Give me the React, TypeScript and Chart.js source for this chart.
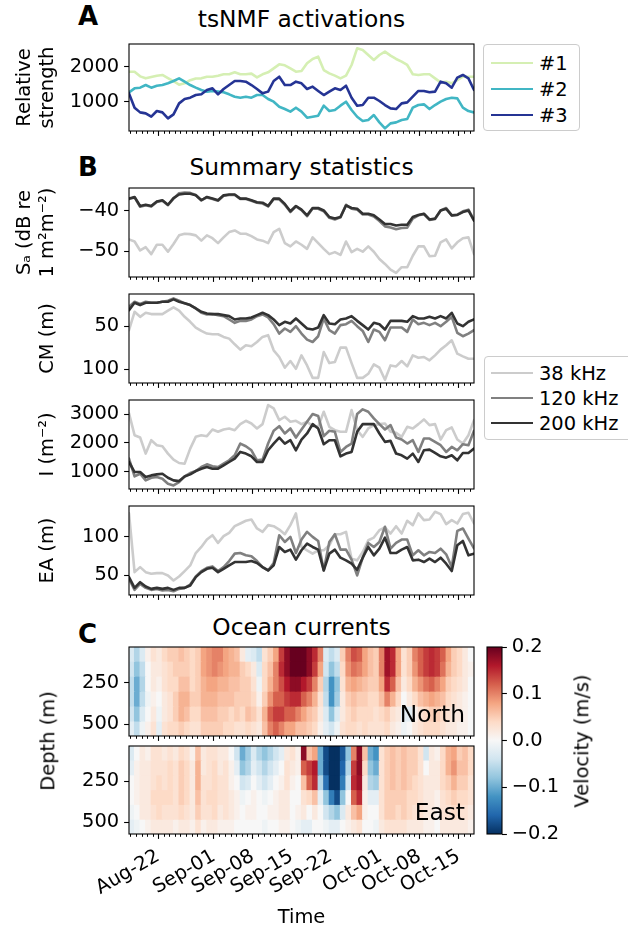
import React, { useEffect, useRef } from 'react';
import { Chart, registerables } from 'chart.js';
Chart.register(...registerables);

const FAMILY = "'DejaVu Sans', 'Liberation Sans', sans-serif";
const FS = 19.44;
const FS_L = 23.33;
Chart.defaults.font.family = FAMILY;
Chart.defaults.color = '#000';

// ---- time axis (days since Aug 1; Aug-22 = 21) ----
const xMin = 15.75;
const xMax = 77.75;
const times = Array.from({ length: 63 }, (_, i) => xMin + i);
const cellTimes = Array.from({ length: 62 }, (_, i) => xMin + 0.5 + i);
const majorTickDays = [21, 31, 38, 45, 52, 61, 68, 75];
const majorTickLabels = ['Aug-22', 'Sep-01', 'Sep-08', 'Sep-15', 'Sep-22', 'Oct-01', 'Oct-08', 'Oct-15'];

// ---- A: tsNMF activations ----
const act1 = [1865,1865,1730,1673,1710,1750,1770,1680,1590,1490,1530,1620,1670,1673,1720,1720,1750,1790,1790,1846,1790,1790,1810,1700,1790,1846,1961,2077,2050,1961,1865,1885,2106,2231,2298,1913,1817,1750,1673,1750,2058,2538,2490,2346,2202,2346,2442,2327,2231,2154,2058,1790,1770,1790,1790,1673,1558,1577,1530,1625,1720,1720,1720];
const act2 = [1270,1385,1404,1480,1404,1460,1480,1530,1596,1673,1577,1480,1404,1337,1290,1310,1290,1270,1212,1144,1115,1144,1115,1192,1192,1077,1000,856,788,712,827,712,538,567,596,885,731,760,885,1000,760,567,442,471,615,404,231,375,404,471,500,827,904,923,788,904,1000,1077,1115,1096,827,731,692];
const act3 = [1240,827,692,663,567,731,692,519,635,952,1077,1115,1192,1212,1337,1385,1212,1365,1480,1596,1596,1577,1480,1365,1240,1290,1596,1720,1480,1480,1577,1530,1365,1433,1310,1192,1290,1385,1337,1460,1115,885,904,1115,1115,1020,904,808,788,952,981,1144,1310,1310,1270,1290,1577,1530,1404,1692,1770,1673,1337];

// ---- B: summary statistics ----
const sa38 = [-47.1,-47.6,-49.8,-49.0,-50.7,-48.4,-48.4,-50.1,-48.2,-46.1,-45.7,-45.8,-46.1,-47.4,-46.1,-46.8,-48.0,-46.6,-45.3,-44.9,-45.7,-45.7,-46.3,-47.1,-47.4,-48.0,-45.3,-44.5,-48.0,-48.8,-47.6,-48.4,-49.4,-46.6,-48.0,-49.4,-50.7,-50.2,-50.9,-47.6,-50.2,-49.4,-50.1,-48.8,-50.1,-51.9,-53.1,-54.5,-55.3,-53.9,-53.9,-51.1,-48.8,-48.8,-51.2,-51.1,-47.8,-47.1,-49.3,-47.8,-46.8,-46.6,-50.7];
const sa120 = [-37.2,-36.8,-39.1,-38.7,-39.0,-37.9,-37.6,-38.7,-37.1,-35.8,-35.6,-35.7,-36.2,-37.5,-36.8,-37.2,-37.6,-36.4,-36.2,-36.2,-37.2,-37.2,-37.6,-38.1,-38.3,-39.0,-37.2,-37.3,-38.6,-40.4,-39.0,-39.9,-41.4,-39.5,-39.6,-40.2,-41.8,-42.2,-41.7,-38.6,-39.6,-39.8,-41.0,-41.0,-41.5,-42.6,-43.9,-44.2,-44.6,-44.3,-44.2,-42.0,-41.2,-40.9,-42.3,-42.1,-40.0,-39.4,-41.2,-41.0,-40.2,-39.8,-42.3];
const sa200 = [-37.1,-36.7,-38.9,-38.6,-38.9,-37.8,-37.5,-38.6,-37.0,-36.1,-35.9,-35.9,-36.3,-37.5,-36.7,-37.1,-37.5,-36.3,-36.1,-36.1,-37.1,-37.1,-37.5,-38.0,-38.1,-38.9,-37.1,-37.1,-38.4,-40.2,-38.9,-39.8,-41.2,-39.4,-39.4,-40.0,-41.6,-42.0,-41.6,-38.8,-39.4,-39.6,-40.8,-40.8,-41.2,-42.2,-43.3,-43.3,-43.7,-43.5,-43.5,-41.6,-41.1,-40.8,-42.2,-42.0,-40.0,-39.6,-41.2,-41.1,-40.4,-40.0,-42.5];
const cm38 = [54.7,33.2,39.1,34.4,35.9,35.9,35.9,32.0,28.1,32.0,39.1,44.9,51.6,55.5,58.6,59.4,59.4,62.5,64.5,71.1,77.3,72.3,73.4,68.4,62.5,60.5,78.1,85.9,98.4,90.6,99.6,84.0,95.7,110.2,110.2,80.1,93.0,91.8,75.0,75.0,93.0,110.2,110.2,105.5,94.5,98.4,112.5,95.7,96.9,90.6,96.9,84.0,86.7,85.9,89.8,84.0,77.3,72.3,66.4,82.0,85.2,87.9,87.9];
const cm120 = [27.3,21.5,24.2,21.5,22.7,22.7,21.5,20.3,17.6,20.3,23.4,25.4,29.3,34.4,36.3,35.9,37.1,38.3,42.2,46.1,43.8,43.8,42.2,38.3,36.3,39.8,47.7,58.6,52.7,56.6,50.0,58.6,65.6,68.4,61.7,41.0,54.7,58.6,48.8,47.7,43.8,50.0,55.5,68.4,53.9,56.6,66.4,51.6,51.6,51.6,56.6,42.2,47.7,46.1,48.8,46.1,50.0,44.9,39.1,57.8,61.7,58.6,54.7];
const cm200 = [31.3,22.7,25.4,22.7,22.7,22.7,21.5,21.5,18.8,21.5,23.4,25.4,29.3,33.2,35.2,35.9,35.9,37.1,38.3,42.2,41.0,41.0,39.8,37.1,34.4,37.1,42.2,48.8,44.9,46.9,41.0,46.9,52.7,53.9,51.6,37.1,46.9,47.7,42.2,41.0,38.3,43.8,48.8,53.9,46.1,47.7,53.9,43.8,43.8,43.8,44.9,38.3,41.0,41.0,39.1,41.0,38.3,41.0,34.4,46.9,50.0,44.9,42.0];
const int38 = [3023,2267,2186,1628,2093,1919,1884,1628,1419,1302,1279,1802,2209,2267,2233,2465,2384,2465,2500,2442,2651,2767,2674,2500,2651,3314,3198,2791,2907,2733,2767,2651,2733,2581,2558,3081,2558,2442,2384,2384,3140,2442,2209,2500,2616,2651,2674,2384,2349,2209,2558,2500,2651,2814,2616,2651,2116,2442,2535,2116,1977,2267,2791];
const int120 = [1453,837,930,698,791,814,756,581,523,640,837,953,1023,1163,1256,1186,1163,1279,1395,1570,1977,1884,1744,1395,1419,1977,2419,2581,2326,2500,2186,2465,2733,3000,2930,2233,2419,2384,1686,1860,1977,3000,3163,3081,2849,2651,2465,2616,2186,2116,1977,2093,1686,2151,2151,2035,1919,1686,1860,1744,1953,1919,2419];
const int200 = [1337,988,988,814,872,907,930,791,698,674,837,907,1023,1105,1163,1105,1105,1221,1337,1453,1686,1628,1535,1337,1337,1744,1977,2186,1977,2093,1744,2116,2326,2651,2500,1953,2093,2093,1535,1628,1686,2384,2651,2651,2651,2326,2035,2070,1628,1570,1453,1628,1337,1744,1767,1651,1535,1488,1570,1395,1651,1651,1802];
const ea38 = [130.7,53.9,60.5,53.9,51.8,52.6,52.6,49.6,43.0,48.2,55.3,62.7,78.9,86.8,96.5,102.2,92.1,100.9,105.3,114.0,117.5,121.1,122.8,111.0,106.6,115.4,114.0,109.6,103.5,115.4,130.7,86.8,82.5,78.1,82.5,82.5,89.0,103.5,103.5,106.6,71.5,69.3,80.3,95.6,99.1,108.8,112.3,104.4,114.0,104.4,121.1,115.4,130.7,121.9,122.8,132.9,129.8,116.7,121.9,117.5,129.8,131.6,117.5];
const ea120 = [45.2,30.7,38.6,33.3,30.7,32.0,29.8,30.7,28.9,32.0,33.3,37.7,48.2,55.3,59.6,61.4,55.3,60.5,68.4,78.1,78.9,75.9,74.6,68.4,60.5,56.1,65.8,102.2,93.4,100.0,78.9,96.5,106.6,100.0,94.7,56.1,93.4,103.5,83.3,83.3,70.2,49.6,72.8,92.1,86.8,93.4,113.2,84.6,92.1,96.5,96.5,75.9,82.5,75.9,80.3,78.9,84.6,77.2,60.5,107.9,111.0,97.8,85.0];
const ea200 = [47.4,33.3,40.8,35.1,32.0,33.3,32.0,33.3,30.7,33.3,33.3,36.4,47.4,53.9,58.3,59.6,53.9,58.3,62.7,67.1,67.1,67.1,68.4,65.8,60.5,56.1,62.7,86.8,80.3,83.3,70.2,82.5,91.2,86.8,83.3,56.1,78.1,83.3,72.8,69.3,64.9,57.0,72.8,86.8,75.9,84.6,99.1,78.9,78.9,83.3,86.8,69.3,70.2,67.1,71.5,67.1,72.8,64.9,55.3,89.0,94.7,75.9,78.1];

// ---- C: ocean currents (m/s), one row per day, columns = depth bins ----
const depthEdges = [35.5, 120, 210, 300, 390, 480, 570.5];
const northCols = [
  [-0.03,-0.04,-0.05,-0.05,-0.04,-0.02],[-0.06,-0.08,-0.10,-0.10,-0.08,-0.05],[-0.03,-0.05,-0.06,-0.05,-0.03,-0.01],[0.01,0.0,0.0,-0.01,0.0,0.01],
  [0.03,0.02,0.02,0.01,0.02,0.03],[0.02,0.02,0.01,0.0,-0.01,-0.02],[0.04,0.03,0.03,0.02,0.02,0.03],[0.05,0.04,0.04,0.03,0.03,0.04],
  [0.05,0.05,0.04,0.05,0.05,0.04],[0.06,0.05,0.06,0.07,0.07,0.05],[0.05,0.05,0.06,0.07,0.06,0.04],[0.04,0.04,0.04,0.05,0.04,0.03],
  [0.05,0.05,0.05,0.05,0.04,0.03],[0.08,0.08,0.07,0.07,0.06,0.05],[0.09,0.09,0.08,0.07,0.06,0.05],[0.10,0.10,0.08,0.07,0.06,0.05],
  [0.10,0.09,0.07,0.06,0.05,0.05],[0.08,0.08,0.07,0.06,0.05,0.04],[0.07,0.07,0.06,0.06,0.04,0.04],[0.06,0.07,0.06,0.05,0.05,0.03],
  [0.02,0.05,0.05,0.05,0.04,0.03],[-0.02,0.04,0.05,0.05,0.06,0.04],[-0.03,0.02,0.03,0.04,0.05,0.03],[-0.05,-0.03,-0.01,0.01,0.03,0.02],
  [0.03,0.04,0.04,0.05,0.07,0.06],[0.05,0.06,0.07,0.09,0.12,0.10],[0.08,0.10,0.10,0.12,0.14,0.12],[0.14,0.15,0.13,0.12,0.14,0.10],
  [0.18,0.18,0.16,0.14,0.12,0.08],[0.20,0.20,0.18,0.15,0.12,0.08],[0.20,0.20,0.18,0.15,0.10,0.06],[0.20,0.20,0.16,0.12,0.08,0.06],
  [0.18,0.18,0.14,0.10,0.06,0.05],[0.15,0.14,0.10,0.07,0.05,0.04],[0.10,0.08,0.05,0.03,0.02,0.01],[-0.03,-0.04,-0.06,-0.05,-0.03,-0.02],
  [-0.05,-0.08,-0.12,-0.12,-0.08,-0.04],[-0.03,-0.05,-0.08,-0.07,-0.03,-0.01],[0.05,0.04,0.03,0.02,0.02,0.03],[0.10,0.09,0.07,0.05,0.04,0.04],
  [0.13,0.11,0.08,0.06,0.05,0.04],[0.12,0.10,0.07,0.05,0.04,0.03],[0.08,0.08,0.06,0.05,0.04,0.04],[0.06,0.06,0.05,0.04,0.04,0.03],
  [0.05,0.05,0.05,0.04,0.03,0.03],[0.10,0.10,0.08,0.06,0.04,0.03],[0.17,0.17,0.15,0.10,0.05,0.04],[0.15,0.15,0.12,0.07,0.03,0.02],
  [0.08,0.08,0.06,0.04,0.02,0.01],[0.03,0.03,0.02,0.0,-0.02,-0.01],[0.05,0.05,0.04,0.02,-0.02,0.0],[0.10,0.09,0.07,0.04,0.01,0.02],
  [0.12,0.12,0.09,0.06,0.03,0.03],[0.14,0.14,0.11,0.07,0.04,0.04],[0.15,0.15,0.12,0.08,0.05,0.04],[0.14,0.14,0.10,0.07,0.05,0.04],
  [0.12,0.11,0.08,0.06,0.04,0.03],[0.08,0.07,0.05,0.04,0.03,0.02],[0.05,0.05,0.04,0.03,0.02,0.02],[0.04,0.04,0.03,0.02,0.02,0.01],
  [0.02,0.02,0.02,0.01,0.01,0.01],[0.0,0.01,0.0,0.0,0.0,0.0],
];
const eastCols = [
  [-0.03,-0.02,0.0,0.0,-0.01,-0.02],[0.0,0.01,0.01,0.01,0.0,-0.01],[0.02,0.02,0.02,0.02,0.02,0.0],[0.01,0.02,0.02,0.02,0.02,0.01],
  [0.03,0.03,0.03,0.04,0.03,0.02],[0.03,0.03,0.04,0.04,0.04,0.02],[0.02,0.03,0.03,0.04,0.03,0.02],[0.03,0.04,0.04,0.04,0.03,0.02],
  [0.02,0.03,0.03,0.03,0.03,0.01],[0.04,0.05,0.05,0.05,0.04,0.02],[0.03,0.04,0.04,0.04,0.03,0.02],[0.01,0.02,0.02,0.02,0.02,0.01],
  [0.06,0.07,0.07,0.06,0.05,0.03],[0.02,0.02,0.03,0.03,0.03,0.01],[0.03,0.03,0.03,0.04,0.03,0.02],[0.03,0.04,0.04,0.04,0.04,0.02],
  [0.02,0.02,0.03,0.03,0.02,0.01],[0.02,0.03,0.03,0.03,0.03,0.01],[0.0,0.01,0.01,0.02,0.02,0.01],[-0.04,-0.02,0.0,0.01,0.01,0.0],
  [-0.10,-0.08,-0.04,-0.01,0.0,0.0],[-0.07,-0.06,-0.03,0.0,0.01,0.0],[-0.03,-0.02,0.0,0.01,0.01,0.0],[-0.06,-0.04,-0.02,0.0,0.0,0.0],
  [-0.08,-0.06,-0.04,-0.01,0.0,-0.01],[-0.06,-0.04,-0.02,0.0,0.01,0.0],[-0.04,-0.02,0.0,0.01,0.01,0.0],[-0.02,0.0,0.01,0.02,0.02,0.01],
  [0.02,0.03,0.03,0.02,0.02,0.01],[0.03,0.02,0.01,0.0,0.0,0.0],[0.01,0.01,0.0,0.0,0.01,-0.01],[0.18,0.12,0.06,0.03,0.02,-0.02],
  [0.06,0.14,0.12,0.04,0.0,-0.02],[0.08,0.16,0.15,0.06,0.02,0.0],[-0.10,-0.10,-0.06,-0.02,0.0,0.0],[-0.18,-0.18,-0.15,-0.08,-0.04,-0.01],
  [-0.20,-0.20,-0.20,-0.14,-0.06,-0.02],[-0.20,-0.20,-0.20,-0.18,-0.08,-0.02],[-0.17,-0.16,-0.14,-0.08,-0.03,0.0],[-0.08,-0.06,-0.04,0.0,0.02,0.01],
  [0.10,0.14,0.15,0.12,0.06,0.02],[0.18,0.18,0.17,0.15,0.08,0.03],[0.06,0.04,0.02,0.01,0.01,0.0],[-0.10,-0.08,-0.06,-0.02,0.0,0.0],
  [-0.12,-0.10,-0.07,-0.02,0.0,-0.01],[0.03,0.03,0.03,0.03,0.03,0.02],[0.05,0.05,0.05,0.05,0.05,0.03],[0.06,0.06,0.06,0.05,0.05,0.03],
  [0.05,0.05,0.05,0.05,0.04,0.03],[0.06,0.06,0.06,0.05,0.05,0.03],[0.05,0.05,0.05,0.04,0.04,0.02],[0.05,0.05,0.04,0.04,0.03,0.02],
  [0.03,0.03,0.03,0.03,0.03,0.02],[-0.04,0.0,0.02,0.02,0.02,0.01],[0.02,0.02,0.02,0.02,0.02,0.01],[0.01,0.02,0.02,0.01,0.01,0.0],
  [0.04,0.04,0.04,0.03,0.03,0.02],[0.07,0.07,0.05,0.04,0.03,0.02],[0.08,0.09,0.07,0.05,0.04,0.02],[0.05,0.06,0.05,0.04,0.03,0.02],
  [0.06,0.06,0.05,0.04,0.03,0.02],[0.04,0.04,0.03,0.03,0.02,0.01],
];

// ---- colours ----
const RDBU_R = ['#053061','#2166ac','#4393c3','#92c5de','#d1e5f0','#f7f7f7','#fddbc7','#f4a582','#d6604d','#b2182b','#67001f'];
function hexToRgb(h: string) { return [1, 3, 5].map(k => parseInt(h.slice(k, k + 2), 16)); }
function colorOf(v: number) {
  const t = Math.max(0, Math.min(1, (v + 0.2) / 0.4)) * 10;
  const i = Math.min(9, Math.floor(t));
  const f = t - i;
  const a = hexToRgb(RDBU_R[i]);
  const b = hexToRgb(RDBU_R[i + 1]);
  const c = a.map((x, k) => Math.round(x + (b[k] - x) * f));
  return `rgb(${c[0]},${c[1]},${c[2]})`;
}

const minus = (s: string) => s.replace('-', '\u2212');

// ---- plugins ----
const framePlugin = {
  id: 'frame',
  afterDraw(chart: any) {
    const { ctx, chartArea: a } = chart;
    ctx.save();
    ctx.strokeStyle = '#000';
    ctx.lineWidth = 1.1;
    ctx.strokeRect(a.left, a.top, a.right - a.left, a.bottom - a.top);
    ctx.restore();
  },
};
const minorTickPlugin = {
  id: 'minorTicks',
  afterDraw(chart: any) {
    const xs = chart.scales.x;
    const { ctx, chartArea: a } = chart;
    ctx.save();
    ctx.strokeStyle = '#000';
    ctx.lineWidth = 1;
    for (let d = Math.ceil(xMin); d <= Math.floor(xMax); d++) {
      if (majorTickDays.includes(d)) continue;
      const px = Math.round(xs.getPixelForValue(d)) + 0.5;
      ctx.beginPath();
      ctx.moveTo(px, a.bottom);
      ctx.lineTo(px, a.bottom + 2.8);
      ctx.stroke();
    }
    ctx.restore();
  },
};
const cornerLabelPlugin = {
  id: 'cornerLabel',
  afterDatasetsDraw(chart: any, _args: any, opts: any) {
    if (!opts || !opts.text) return;
    const { ctx, chartArea: a } = chart;
    ctx.save();
    ctx.font = `${FS_L}px ${FAMILY}`;
    ctx.fillStyle = '#000';
    ctx.textAlign = 'right';
    ctx.textBaseline = 'alphabetic';
    ctx.fillText(opts.text, a.right - 9, a.bottom - 14);
    ctx.restore();
  },
};
const colorbarPlugin = {
  id: 'cbarFill',
  beforeDatasetsDraw(chart: any) {
    const { ctx, chartArea: a } = chart;
    const ys = chart.scales.y;
    const y0 = ys.getPixelForValue(-0.2);
    const y1 = ys.getPixelForValue(0.2);
    const g = ctx.createLinearGradient(0, y0, 0, y1);
    RDBU_R.forEach((c, i) => g.addColorStop(i / (RDBU_R.length - 1), c));
    ctx.save();
    ctx.fillStyle = g;
    ctx.fillRect(a.left, a.top, a.right - a.left, a.bottom - a.top);
    ctx.restore();
  },
};

const PAD = 20;

function xScale(showLabels: boolean, axisH: number) {
  return {
    type: 'linear',
    min: xMin,
    max: xMax,
    offset: false,
    grid: { display: true, offset: false, drawOnChartArea: false, drawTicks: true, tickLength: 4.9, tickWidth: 1.1, tickColor: '#000' },
    border: { display: false },
    afterBuildTicks: (s: any) => { s.ticks = majorTickDays.map(v => ({ value: v })); },
    afterFit: (s: any) => { s.height = axisH; },
    ticks: {
      display: showLabels,
      autoSkip: false,
      minRotation: 30,
      maxRotation: 30,
      padding: 6,
      color: '#000',
      font: { family: FAMILY, size: FS },
      callback: (v: number) => { const k = majorTickDays.indexOf(v); return k >= 0 ? majorTickLabels[k] : ''; },
    },
    title: showLabels
      ? { display: true, text: 'Time', color: '#000', font: { family: FAMILY, size: FS }, padding: { top: 0, bottom: 4 } }
      : { display: false },
  };
}

function yScale(p: { min: number; max: number; ticks: number[]; reverse?: boolean; title?: string | string[]; titlePad?: number }) {
  return {
    type: 'linear',
    min: p.min,
    max: p.max,
    reverse: !!p.reverse,
    beginAtZero: false,
    grid: { display: true, drawOnChartArea: false, drawTicks: true, tickLength: 4.9, tickWidth: 1.1, tickColor: '#000' },
    border: { display: false },
    afterBuildTicks: (s: any) => { s.ticks = p.ticks.map(v => ({ value: v })); },
    afterFit: (s: any) => { s.width = 129; },
    ticks: { color: '#000', padding: 4.9, font: { family: FAMILY, size: FS }, callback: (v: number) => minus(String(v)) },
    title: p.title
      ? { display: true, text: p.title, color: '#000', font: { family: FAMILY, size: FS, lineHeight: 1.2 }, padding: { top: p.titlePad ?? 0, bottom: 0 } }
      : { display: false },
  };
}

function lineConfig(p: any) {
  return {
    type: 'line',
    data: {
      datasets: p.series.map((s: any) => ({
        label: s.label,
        data: times.map((t, i) => ({ x: t, y: s.data[i] })),
        borderColor: s.color,
        backgroundColor: s.color,
        borderWidth: 2.6,
        pointRadius: 0,
        tension: 0,
        fill: false,
        borderJoinStyle: 'round',
        borderCapStyle: 'round',
      })),
    },
    options: {
      responsive: false,
      animation: false,
      events: [],
      layout: { padding: { top: PAD, right: 6, left: 0, bottom: 0 } },
      plugins: { legend: { display: false }, tooltip: { enabled: false } },
      scales: { x: xScale(false, PAD), y: yScale(p) },
    },
    plugins: [framePlugin, minorTickPlugin],
  };
}

function heatConfig(cols: number[][], label: string, showX: boolean, axisH: number) {
  const rows = depthEdges.slice(0, -1).map((_, r) => cols.map(c => c[r]));
  return {
    type: 'bar',
    data: {
      datasets: rows.map((vals, r) => ({
        data: cellTimes.map((t) => ({ x: t, y: [depthEdges[r], depthEdges[r + 1]] })),
        backgroundColor: vals.map(colorOf),
        borderWidth: 0,
        barPercentage: 1,
        categoryPercentage: 1,
        grouped: false,
        inflateAmount: 0.6,
      })),
    },
    options: {
      responsive: false,
      animation: false,
      events: [],
      layout: { padding: { top: PAD, right: 6, left: 0, bottom: 0 } },
      plugins: { legend: { display: false }, tooltip: { enabled: false }, cornerLabel: { text: label } },
      scales: { x: xScale(showX, axisH), y: yScale({ min: 35.5, max: 570.5, ticks: [250, 500], reverse: true }) },
    },
    plugins: [cornerLabelPlugin, framePlugin, minorTickPlugin],
  };
}

function colorbarConfig() {
  return {
    type: 'scatter',
    data: { datasets: [] },
    options: {
      responsive: false,
      animation: false,
      events: [],
      layout: { padding: { top: PAD, right: 0, left: 17, bottom: PAD } },
      plugins: { legend: { display: false }, tooltip: { enabled: false } },
      scales: {
        x: { display: false, min: 0, max: 1 },
        y: {
          type: 'linear',
          position: 'right',
          min: -0.2,
          max: 0.2,
          grid: { display: true, drawOnChartArea: false, drawTicks: true, tickLength: 4.9, tickWidth: 1.1, tickColor: '#000' },
          border: { display: false },
          afterBuildTicks: (s: any) => { s.ticks = [-0.2, -0.1, 0, 0.1, 0.2].map(v => ({ value: v })); },
          afterFit: (s: any) => { s.width = 126; },
          ticks: { color: '#000', padding: 4.9, font: { family: FAMILY, size: FS }, callback: (v: number) => minus(Number(v).toFixed(1)) },
        },
      },
    },
    plugins: [colorbarPlugin, framePlugin],
  };
}

function ChartBox({ left, top, width, height, make }: { left: number; top: number; width: number; height: number; make: () => any }) {
  const ref = useRef<HTMLCanvasElement>(null);
  useEffect(() => {
    const chart = new Chart(ref.current as HTMLCanvasElement, make());
    return () => chart.destroy();
  }, []);
  return (
    <div style={{ position: 'absolute', left, top, width, height }}>
      <canvas ref={ref} width={width} height={height} style={{ width, height, display: 'block' }} />
    </div>
  );
}

function Txt({ x, baseline, size, bold, children, align = 'left', width = 0 }: any) {
  const top = baseline - 0.846 * size;
  const style: any = { position: 'absolute', top, fontFamily: FAMILY, fontSize: size, lineHeight: 1, fontWeight: bold ? 'bold' : 'normal', whiteSpace: 'nowrap', color: '#000' };
  if (align === 'center') { style.left = x - width / 2; style.width = width; style.textAlign = 'center'; }
  else style.left = x;
  return <div style={style}>{children}</div>;
}

function VText({ cx, cy, children }: any) {
  return (
    <div style={{ position: 'absolute', left: cx, top: cy, transform: 'translate(-50%, -50%) rotate(-90deg)', fontFamily: FAMILY, fontSize: FS, lineHeight: 1.2, whiteSpace: 'nowrap', color: '#000' }}>
      {children}
    </div>
  );
}

function Legend({ left, top, width, height, rows }: any) {
  return (
    <div style={{ position: 'absolute', left, top, width, height, border: '1px solid #cccccc', borderRadius: 4, background: 'rgba(255,255,255,0.8)', boxSizing: 'border-box' }}>
      {rows.map((r: any) => (
        <React.Fragment key={r.label}>
          <div style={{ position: 'absolute', left: 490 - left, top: r.y - top - 2.3, width: 42, height: 2.6, background: r.color }} />
          <div style={{ position: 'absolute', left: 538 - left, top: r.y - top - 10.4, fontFamily: FAMILY, fontSize: FS, lineHeight: 1, whiteSpace: 'nowrap', color: '#000' }}>{r.label}</div>
        </React.Fragment>
      ))}
    </div>
  );
}

const C1 = '#d5efb3', C2 = '#41b6c4', C3 = '#253494';
const G38 = '#cccccc', G120 = '#808080', G200 = '#333333';

export default function App() {
  const bSeries = (a: number[], b: number[], c: number[]) => [
    { label: '200 kHz', data: c, color: G200 },
    { label: '120 kHz', data: b, color: G120 },
    { label: '38 kHz', data: a, color: G38 },
  ];
  return (
    <div style={{ position: 'absolute', left: 0, top: 0, width: 628, height: 934, overflow: 'hidden', background: '#fff' }}>
      <Txt x={78} baseline={25} size={26} bold>A</Txt>
      <Txt x={301.5} width={345} align="center" baseline={28} size={FS_L}>tsNMF activations</Txt>
      <Txt x={78} baseline={176} size={26} bold>B</Txt>
      <Txt x={301.5} width={345} align="center" baseline={176} size={FS_L}>Summary statistics</Txt>
      <Txt x={78} baseline={643} size={26} bold>C</Txt>
      <Txt x={301.5} width={345} align="center" baseline={636} size={FS_L}>Ocean currents</Txt>

      <ChartBox left={0} top={44 - PAD} width={480} height={PAD + 87 + PAD} make={() => lineConfig({
        series: [
          { label: '#3', data: act3, color: C3 },
          { label: '#2', data: act2, color: C2 },
          { label: '#1', data: act1, color: C1 },
        ],
        min: 155, max: 2663, ticks: [1000, 2000], title: ['Relative', 'strength'], titlePad: 13,
      })} />
      <ChartBox left={0} top={188 - PAD} width={480} height={PAD + 89 + PAD} make={() => lineConfig({
        series: bSeries(sa38, sa120, sa200), min: -56.3, max: -34.5, ticks: [-50, -40],
        title: ['S\u2090 (dB re', '1 m\u00b2m\u207b\u00b2)'], titlePad: 13,
      })} />
      <ChartBox left={0} top={294 - PAD} width={480} height={PAD + 89 + PAD} make={() => lineConfig({
        series: bSeries(cm38, cm120, cm200), min: 12.5, max: 116.2, ticks: [50, 100], reverse: true,
        title: 'CM (m)', titlePad: 36.5,
      })} />
      <ChartBox left={0} top={400 - PAD} width={480} height={PAD + 89 + PAD} make={() => lineConfig({
        series: bSeries(int38, int120, int200), min: 400, max: 3488, ticks: [1000, 2000, 3000],
        title: 'I (m\u207b\u00b2)', titlePad: 36.5,
      })} />
      <ChartBox left={0} top={506 - PAD} width={480} height={PAD + 89 + PAD} make={() => lineConfig({
        series: bSeries(ea38, ea120, ea200), min: 24, max: 140.4, ticks: [50, 100],
        title: 'EA (m)', titlePad: 36.5,
      })} />

      <ChartBox left={0} top={647 - PAD} width={480} height={PAD + 89 + PAD} make={() => heatConfig(northCols, 'North', false, PAD)} />
      <ChartBox left={0} top={746 - PAD} width={480} height={PAD + 88 + 100} make={() => heatConfig(eastCols, 'East', true, 100)} />
      <ChartBox left={470} top={647 - PAD} width={158} height={PAD + 187 + PAD} make={() => colorbarConfig()} />

      <VText cx={48} cy={740.5}>Depth (m)</VText>
      <VText cx={582} cy={740.5}>Velocity (m/s)</VText>

      <Legend left={483} top={44} width={97} height={87} rows={[
        { label: '#1', color: C1, y: 63 },
        { label: '#2', color: C2, y: 89 },
        { label: '#3', color: C3, y: 115 },
      ]} />
      <Legend left={484} top={356} width={160} height={84} rows={[
        { label: '38 kHz', color: G38, y: 373 },
        { label: '120 kHz', color: G120, y: 398 },
        { label: '200 kHz', color: G200, y: 423 },
      ]} />
    </div>
  );
}
